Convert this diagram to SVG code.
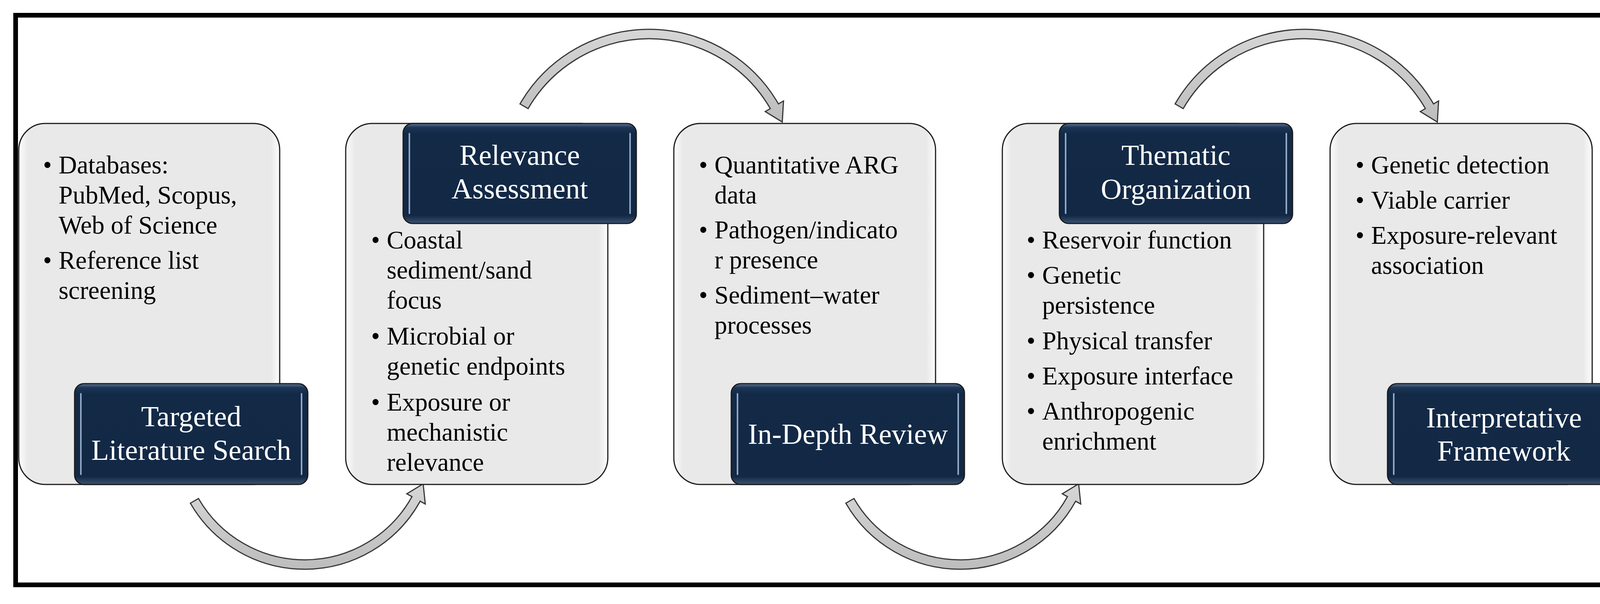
<svg xmlns="http://www.w3.org/2000/svg" width="4199" height="1546" viewBox="0 0 4199 1546">
<defs>
<linearGradient id="boxGrad" x1="0" y1="0" x2="1" y2="0">
<stop offset="0" stop-color="#fdfdfd"/>
<stop offset="0.035" stop-color="#e9e9e9"/>
<stop offset="0.965" stop-color="#e9e9e9"/>
<stop offset="1" stop-color="#fdfdfd"/>
</linearGradient>
<linearGradient id="labGrad" x1="0" y1="0" x2="0" y2="1">
<stop offset="0" stop-color="#5b7494"/>
<stop offset="0.04" stop-color="#1d3556"/>
<stop offset="0.1" stop-color="#132a47"/>
<stop offset="0.92" stop-color="#122845"/>
<stop offset="1" stop-color="#3a5372"/>
</linearGradient>
<linearGradient id="arrGrad" x1="0" y1="0" x2="0" y2="1">
<stop offset="0" stop-color="#d6d6d6"/>
<stop offset="1" stop-color="#bdbdbd"/>
</linearGradient>
<style>
.box{fill:url(#boxGrad);stroke:#1e1e1e;stroke-width:3}
.lab{fill:url(#labGrad);stroke:#1a1a1a;stroke-width:3}
.hl{stroke:#8ea8c6;stroke-width:4;stroke-linecap:round;fill:none}
.bt{font-family:"Liberation Serif","Times New Roman",serif;font-size:65px;fill:#000}
.lt{font-family:"Liberation Serif","Times New Roman",serif;font-size:74px;fill:#ffffff;text-anchor:middle}
.arr{fill:url(#arrGrad);stroke:#383838;stroke-width:3;stroke-linejoin:miter}
</style>
</defs>
<rect width="4199" height="1546" fill="#ffffff"/>
<rect x="40" y="39" width="4114" height="1458" fill="none" stroke="#000000" stroke-width="12"/>

<g id="connectors">
<path id="arrow1" class="arr" d="M487.3,1288 A338,338 0 0 0 1075.6,1282.9 L1088.7,1290.1 L1083.3,1238.5 L1041.5,1264 L1054.6,1271.2 A314,314 0 0 1 508.1,1276 Z"/>
<path id="arrow2" class="arr" transform="translate(1678,0)" d="M487.3,1288 A338,338 0 0 0 1075.6,1282.9 L1088.7,1290.1 L1083.3,1238.5 L1041.5,1264 L1054.6,1271.2 A314,314 0 0 1 508.1,1276 Z"/>
<path id="arrow3" class="arr" d="M1331.2,266 A382,382 0 0 1 1992.8,266 L2005.8,258.5 L2002.6,312.4 L1959,285.5 L1972,278 A358,358 0 0 0 1352,278 Z"/>
<path id="arrow4" class="arr" transform="translate(1677,0)" d="M1331.2,266 A382,382 0 0 1 1992.8,266 L2005.8,258.5 L2002.6,312.4 L1959,285.5 L1972,278 A358,358 0 0 0 1352,278 Z"/>
</g>

<g id="step1">
<rect class="box" x="48" y="316" width="668" height="924" rx="68" ry="68"/>
<text class="bt" x="110" y="444">•</text>
<text class="bt" x="150" y="444">Databases:</text>
<text class="bt" x="150" y="521">PubMed, Scopus,</text>
<text class="bt" x="150" y="598">Web of Science</text>
<text class="bt" x="110" y="688">•</text>
<text class="bt" x="150" y="688">Reference list</text>
<text class="bt" x="150" y="765">screening</text>
<rect class="lab" x="191" y="982" width="597" height="258" rx="24" ry="24"/>
<line class="hl" x1="207" y1="1008" x2="207" y2="1214"/>
<line class="hl" x1="772" y1="1008" x2="772" y2="1214"/>
<text class="lt" x="489.5" y="1091">Targeted</text>
<text class="lt" x="489.5" y="1177">Literature Search</text>
</g>

<g id="step2">
<rect class="box" x="885" y="316" width="671" height="924" rx="68" ry="68"/>
<text class="bt" x="950" y="636">•</text>
<text class="bt" x="990" y="636">Coastal</text>
<text class="bt" x="990" y="713">sediment/sand</text>
<text class="bt" x="990" y="790">focus</text>
<text class="bt" x="950" y="882">•</text>
<text class="bt" x="990" y="882">Microbial or</text>
<text class="bt" x="990" y="959">genetic endpoints</text>
<text class="bt" x="950" y="1051">•</text>
<text class="bt" x="990" y="1051">Exposure or</text>
<text class="bt" x="990" y="1128">mechanistic</text>
<text class="bt" x="990" y="1205">relevance</text>
<rect class="lab" x="1032" y="316" width="597" height="256" rx="24" ry="24"/>
<line class="hl" x1="1048" y1="342" x2="1048" y2="546"/>
<line class="hl" x1="1613" y1="342" x2="1613" y2="546"/>
<text class="lt" x="1330.5" y="422">Relevance</text>
<text class="lt" x="1330.5" y="508">Assessment</text>
</g>

<g id="step3">
<rect class="box" x="1725" y="316" width="670" height="924" rx="68" ry="68"/>
<text class="bt" x="1789" y="444">•</text>
<text class="bt" x="1829" y="444">Quantitative ARG</text>
<text class="bt" x="1829" y="521">data</text>
<text class="bt" x="1789" y="610">•</text>
<text class="bt" x="1829" y="610">Pathogen/indicato</text>
<text class="bt" x="1829" y="687">r presence</text>
<text class="bt" x="1789" y="777">•</text>
<text class="bt" x="1829" y="777">Sediment–water</text>
<text class="bt" x="1829" y="854">processes</text>
<rect class="lab" x="1872" y="982" width="597" height="258" rx="24" ry="24"/>
<line class="hl" x1="1888" y1="1008" x2="1888" y2="1214"/>
<line class="hl" x1="2453" y1="1008" x2="2453" y2="1214"/>
<text class="lt" x="2170.5" y="1136">In-Depth Review</text>
</g>

<g id="step4">
<rect class="box" x="2566" y="316" width="669" height="924" rx="68" ry="68"/>
<text class="bt" x="2628" y="636">•</text>
<text class="bt" x="2668" y="636">Reservoir function</text>
<text class="bt" x="2628" y="726">•</text>
<text class="bt" x="2668" y="726">Genetic</text>
<text class="bt" x="2668" y="803">persistence</text>
<text class="bt" x="2628" y="894">•</text>
<text class="bt" x="2668" y="894">Physical transfer</text>
<text class="bt" x="2628" y="984">•</text>
<text class="bt" x="2668" y="984">Exposure interface</text>
<text class="bt" x="2628" y="1074">•</text>
<text class="bt" x="2668" y="1074">Anthropogenic</text>
<text class="bt" x="2668" y="1151">enrichment</text>
<rect class="lab" x="2712" y="316" width="597" height="256" rx="24" ry="24"/>
<line class="hl" x1="2728" y1="342" x2="2728" y2="546"/>
<line class="hl" x1="3293" y1="342" x2="3293" y2="546"/>
<text class="lt" x="3010.5" y="422">Thematic</text>
<text class="lt" x="3010.5" y="509">Organization</text>
</g>

<g id="step5">
<rect class="box" x="3405" y="316" width="671" height="924" rx="68" ry="68"/>
<text class="bt" x="3470" y="444">•</text>
<text class="bt" x="3510" y="444">Genetic detection</text>
<text class="bt" x="3470" y="534">•</text>
<text class="bt" x="3510" y="534">Viable carrier</text>
<text class="bt" x="3470" y="624">•</text>
<text class="bt" x="3510" y="624">Exposure-relevant</text>
<text class="bt" x="3510" y="701">association</text>
<rect class="lab" x="3552" y="982" width="596" height="258" rx="24" ry="24"/>
<line class="hl" x1="3568" y1="1008" x2="3568" y2="1214"/>
<line class="hl" x1="4132" y1="1008" x2="4132" y2="1214"/>
<text class="lt" x="3850" y="1094">Interpretative</text>
<text class="lt" x="3850" y="1179">Framework</text>
</g>
</svg>
